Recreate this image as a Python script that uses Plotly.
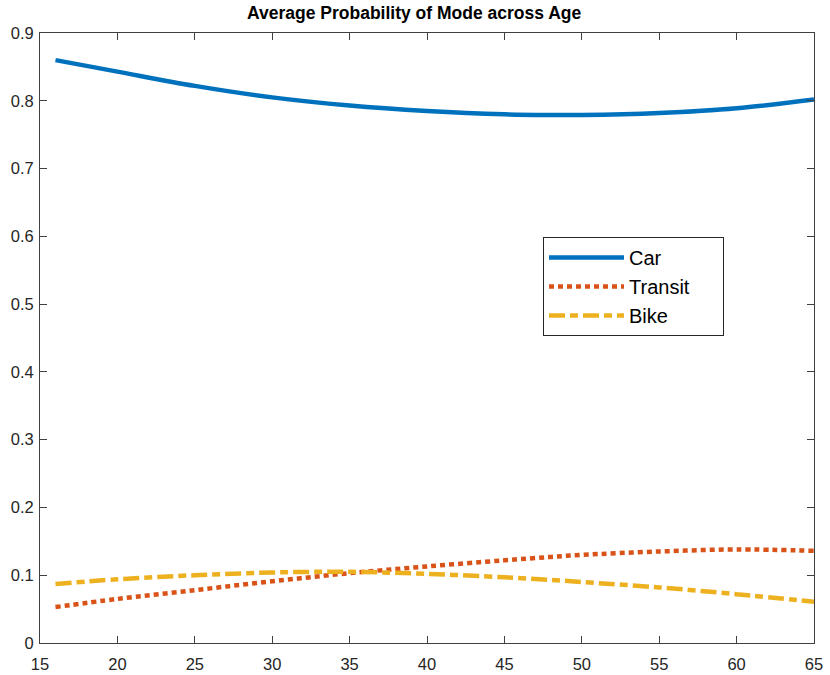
import plotly.graph_objects as go

# Average predicted probability of each travel mode by age
ages = [16, 20, 25, 30, 35, 40, 45, 48, 50, 55, 60, 65]
car = [0.860, 0.843, 0.822, 0.805, 0.793, 0.785, 0.780, 0.779, 0.779, 0.782, 0.789, 0.802]
transit = [0.053, 0.065, 0.078, 0.091, 0.103, 0.113, 0.122, 0.127, 0.130, 0.135, 0.138, 0.136]
bike = [0.087, 0.094, 0.100, 0.104, 0.105, 0.102, 0.097, 0.093, 0.090, 0.082, 0.072, 0.061]

x_ticks = [15, 20, 25, 30, 35, 40, 45, 50, 55, 60, 65]
y_ticks = [0, 0.1, 0.2, 0.3, 0.4, 0.5, 0.6, 0.7, 0.8, 0.9]
y_labels = ["0", "0.1", "0.2", "0.3", "0.4", "0.5", "0.6", "0.7", "0.8", "0.9"]

FONT = "Liberation Sans, Arial, Helvetica, sans-serif"
NBSP = "\u00a0"

fig = go.Figure()
fig.add_trace(go.Scatter(x=ages, y=car, name="Car", mode="lines",
                         line=dict(color="#0072BD", width=4.5, shape="spline")))
# trailing non-breaking spaces widen the legend box
fig.add_trace(go.Scatter(x=ages, y=transit, name="Transit" + NBSP * 5, mode="lines",
                         line=dict(color="#D95319", width=4.5, shape="spline", dash="5px,4px")))
fig.add_trace(go.Scatter(x=ages, y=bike, name="Bike", mode="lines",
                         line=dict(color="#EDB120", width=4.5, shape="spline", dash="16px,5px,8px,5px")))

axis_common = dict(
    showgrid=False, zeroline=False, showline=True, linecolor="#404040", linewidth=1,
    mirror="ticks", ticks="inside", ticklen=7, tickcolor="#404040", automargin=False,
    tickfont=dict(family=FONT, size=16.5, color="#262626"),
)

fig.update_layout(
    width=830, height=675,
    margin=dict(l=40, r=16, t=33, b=32),
    paper_bgcolor="white", plot_bgcolor="white",
    title=dict(text="<b>Average Probability of Mode across Age</b>", x=0.499, xref="container",
               xanchor="center", y=1 - 13 / 675, yanchor="middle",
               font=dict(family=FONT, size=17.5, color="black")),
    xaxis=dict(range=[15, 65], tickvals=x_ticks, ticklabelstandoff=6, **axis_common),
    yaxis=dict(range=[0, 0.9], tickvals=y_ticks, ticktext=y_labels, ticklabelstandoff=2,
               **axis_common),
    legend=dict(x=(543 - 40) / 774, y=(643 - 237) / 610, xanchor="left", yanchor="top",
                bordercolor="#262626", borderwidth=1, bgcolor="white",
                itemwidth=75,
                font=dict(family=FONT, size=20, color="black")),
    showlegend=True,
)

fig.write_html("out.html")
